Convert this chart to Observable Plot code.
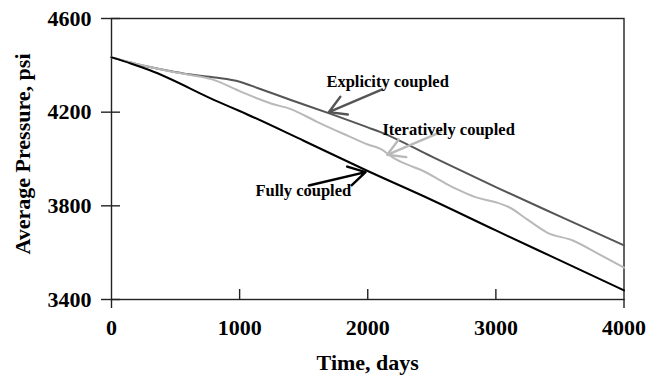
<!DOCTYPE html>
<html>
<head>
<meta charset="utf-8">
<script src="https://cdn.jsdelivr.net/npm/d3@7"></script>
<script src="https://cdn.jsdelivr.net/npm/@observablehq/plot@0.6"></script>
<style>
  html, body { margin: 0; padding: 0; background: #fff; }
</style>
</head>
<body>
<div id="chart"></div>
<script>
// Average reservoir pressure (psi) against time (days) for three coupling schemes
const fullyDays      = [0, 150, 300, 835, 1000, 1500, 1983, 2500, 3000, 3500, 4000];
const fullyPressure  = [4434, 4408, 4379, 4244, 4205, 4078, 3953, 3825, 3695, 3567, 3439];

const explicitDays     = [0, 200, 445, 600, 809, 1000, 1150, 1400, 1700, 2000, 2100, 2500, 3000, 3500, 4000];
const explicitPressure = [4434, 4405, 4377, 4362, 4348, 4330, 4301, 4252, 4195, 4135, 4115, 4010, 3880, 3755, 3631];

const iterDays     = [0, 200, 445, 600, 780, 1000, 1150, 1250, 1400, 1600, 1800, 2000, 2100, 2200, 2300, 2425, 2600, 2700, 2840, 3000, 3100, 3250, 3400, 3600, 3800, 4000];
const iterPressure = [4434, 4406, 4376, 4360, 4341, 4290, 4256, 4236, 4213, 4160, 4110, 4062, 4043, 4005, 3978, 3951, 3898, 3870, 3837, 3815, 3795, 3740, 3686, 3652, 3595, 3536];

const xTicks = [0, 1000, 2000, 3000, 4000];
const yTicks = [3400, 3800, 4200, 4600];
const xInnerTicks = [1000, 2000, 3000];
const xEndTicks = [0, 4000];

// Annotation labels with their arrows (tail -> head), in data units
const labelNames  = ["Explicity coupled", "Iteratively coupled", "Fully coupled"];
const labelX      = [2155, 2631, 1497];
const labelY      = [4332, 4125, 3863];
const labelAnchor = ["start", "start", "end"];
const arrowX1 = [2113, 2568, 1540];
const arrowY1 = [4297, 4115, 3887];
const arrowX2 = [1696, 2152, 1983];
const arrowY2 = [4200, 4018, 3944];
const seriesColors = ["#555555", "#b9b9b9", "#000000"];

const zip = (xs, ys) => xs.map((x, i) => ({x, y: ys[i]}));
const fully = zip(fullyDays, fullyPressure);
const explicit = zip(explicitDays, explicitPressure);
const iterative = zip(iterDays, iterPressure);
const labels = labelNames.map((name, i) => ({
  name, x: labelX[i], y: labelY[i], anchor: labelAnchor[i],
  x1: arrowX1[i], y1: arrowY1[i], x2: arrowX2[i], y2: arrowY2[i], color: seriesColors[i]
}));

const W = 647, H = 379;
const mL = 111, mR = 23.5, mT = 18, mB = 80;
const plotW = W - mL - mR, plotH = H - mT - mB;
const font = "'Liberation Serif', 'Times New Roman', serif";

const chart = Plot.plot({
  width: W,
  height: H,
  marginLeft: mL,
  marginRight: mR,
  marginTop: mT,
  marginBottom: mB,
  style: {fontFamily: font, fontWeight: "bold", background: "#fff", color: "#000"},
  x: {domain: [0, 4000]},
  y: {domain: [3400, 4600]},
  marks: [
    Plot.frame({stroke: "#222", strokeWidth: 1.4}),
    // y ticks crossing the left axis
    Plot.tickY(yTicks, {y: d => d, dx: -10, insetRight: plotW - 19, stroke: "#222", strokeWidth: 1.4}),
    // inward x ticks
    Plot.tickX(xInnerTicks, {x: d => d, insetTop: plotH - 10, stroke: "#222", strokeWidth: 1.4}),
    // axis ends extending below the baseline
    Plot.tickX(xEndTicks, {x: d => d, insetTop: plotH - 9, dy: 9, stroke: "#222", strokeWidth: 1.4}),
    Plot.axisX({ticks: xTicks, tickSize: 0, tickPadding: 20, fontSize: 22, fontWeight: "bold", label: null, tickFormat: d => String(d)}),
    Plot.axisY({ticks: yTicks, tickSize: 0, tickPadding: 20, fontSize: 22, fontWeight: "bold", label: null, tickFormat: d => String(d)}),
    Plot.line(explicit, {x: "x", y: "y", stroke: seriesColors[0], strokeWidth: 2, curve: "monotone-x"}),
    Plot.line(iterative, {x: "x", y: "y", stroke: seriesColors[1], strokeWidth: 2, curve: "monotone-x"}),
    Plot.line(fully, {x: "x", y: "y", stroke: seriesColors[2], strokeWidth: 2, curve: "monotone-x"}),
    Plot.arrow(labels, {x1: "x1", y1: "y1", x2: "x2", y2: "y2", stroke: "color", strokeWidth: 2.4, headLength: 12}),
    Plot.text(labels, {x: "x", y: "y", text: "name", textAnchor: "anchor", fontSize: 16.5, fontWeight: "bold", fill: "#000"}),
    Plot.text(["Time, days"], {frameAnchor: "bottom", dy: 70, fontSize: 22, fontWeight: "bold", fill: "#000"}),
    Plot.text(["Average Pressure, psi"], {frameAnchor: "left", textAnchor: "middle", dx: -89, dy: -5, rotate: -90, fontSize: 22, fontWeight: "bold", fill: "#000"})
  ]
});

document.getElementById("chart").appendChild(chart);
</script>
</body>
</html>
